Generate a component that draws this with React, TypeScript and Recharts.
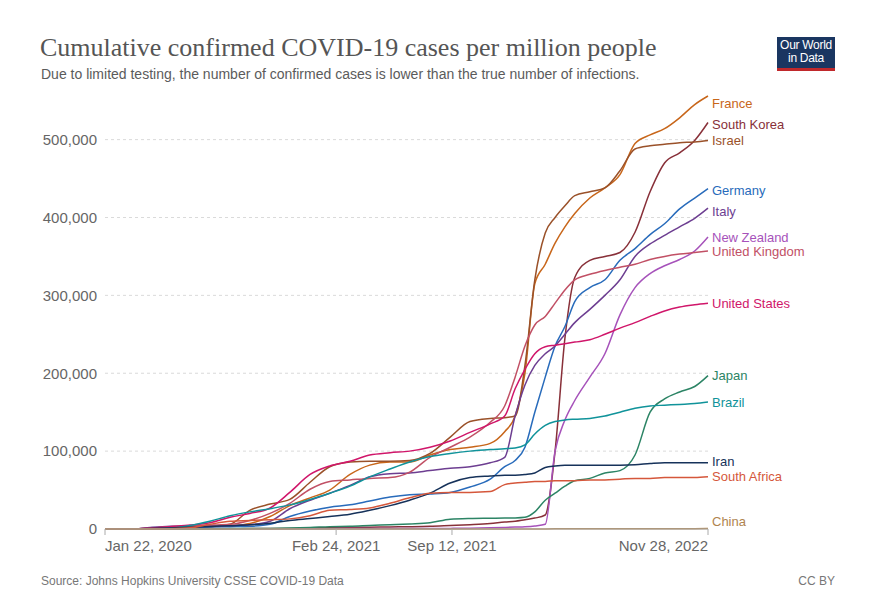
import { LineChart, Line, XAxis, YAxis, CartesianGrid } from "recharts";

// days since Jan 22, 2020
const days = [0, 43, 78, 112, 147, 181, 216, 250, 285, 319, 354, 388, 423, 457, 492, 526, 561, 596, 630, 665, 690, 708, 725, 742, 760, 777, 794, 811, 837, 863, 889, 915, 941, 966, 992, 1018, 1041];

const tickDays = [0, 399, 599, 1041];
const tickLabels = ["Jan 22, 2020", "Feb 24, 2021", "Sep 12, 2021", "Nov 28, 2022"];
const yTicks = [0, 100000, 200000, 300000, 400000, 500000];

// cumulative cases per million
const france = [0, 0, 500, 1000, 2000, 3000, 4000, 7000, 16000, 30000, 40000, 50000, 70000, 82000, 86000, 86000, 95000, 102000, 105000, 110000, 125000, 145000, 200000, 315000, 340000, 367000, 388000, 405000, 425000, 438000, 455000, 495000, 506000, 514000, 528000, 545000, 556000];
const southKorea = [0, 100, 200, 200, 300, 300, 400, 500, 600, 700, 1400, 1700, 2000, 2300, 2700, 3000, 3500, 4500, 5500, 7000, 9000, 10000, 12000, 14000, 18000, 100000, 245000, 323000, 345000, 350000, 355000, 381000, 433000, 470000, 483000, 499000, 522000];
const israel = [0, 0, 1000, 2000, 2000, 3000, 6000, 24000, 32000, 38000, 60000, 80000, 86000, 87000, 87000, 88000, 97000, 118000, 138000, 142000, 143000, 145000, 210000, 320000, 380000, 400000, 415000, 428000, 433000, 438000, 460000, 488000, 492000, 494000, 496000, 497000, 499000];
const germany = [0, 0, 1000, 2000, 2000, 2500, 3000, 3500, 6000, 16000, 23000, 28000, 31000, 36000, 41000, 44000, 45000, 47000, 54000, 64000, 80000, 88000, 105000, 150000, 195000, 235000, 260000, 292000, 310000, 320000, 345000, 360000, 378000, 392000, 411000, 425000, 437000];
const italy = [0, 0, 2000, 3500, 4000, 4000, 4500, 5500, 10000, 26000, 37000, 46000, 56000, 67000, 71000, 72000, 75000, 78000, 80000, 85000, 92000, 145000, 185000, 210000, 225000, 235000, 250000, 265000, 282000, 300000, 320000, 350000, 366000, 377000, 388000, 399000, 412000];
const newZealand = [0, 0, 200, 300, 300, 300, 300, 400, 400, 400, 450, 480, 500, 550, 570, 600, 700, 800, 1000, 1500, 2000, 2500, 3000, 4000, 6000, 100000, 140000, 165000, 195000, 225000, 275000, 310000, 328000, 338000, 346000, 357000, 375000];
const unitedKingdom = [0, 0, 1000, 3000, 4000, 5000, 6000, 11000, 20000, 33000, 51000, 61000, 63000, 65000, 66000, 73000, 92000, 105000, 118000, 137000, 158000, 195000, 235000, 262000, 273000, 290000, 307000, 320000, 327000, 332000, 336000, 340000, 346000, 350000, 353000, 355000, 357000];
const unitedStates = [0, 0, 1000, 3000, 5000, 8000, 15000, 20000, 27000, 47000, 70000, 81000, 87000, 95000, 98000, 100000, 105000, 113000, 124000, 135000, 145000, 180000, 205000, 225000, 234000, 236000, 238000, 240000, 243000, 250000, 258000, 265000, 273000, 280000, 285000, 288000, 290000];
const japan = [0, 0, 0, 100, 150, 200, 500, 600, 800, 1300, 2000, 3000, 3500, 4500, 5500, 6500, 8000, 12500, 13500, 13800, 14000, 14200, 15000, 22000, 37000, 46000, 55000, 62000, 65000, 72000, 75000, 95000, 150000, 167000, 176000, 183000, 197000];
const brazil = [0, 0, 100, 1000, 4500, 10000, 17000, 22000, 26000, 31000, 38000, 46000, 55000, 67000, 77000, 86000, 93000, 97000, 100000, 102000, 103000, 104000, 108000, 122000, 133000, 138000, 140000, 141000, 142000, 145000, 150000, 155000, 158000, 159000, 160000, 161000, 163000];
const iran = [0, 20, 800, 1400, 2300, 3300, 4300, 5300, 7300, 11000, 13500, 16000, 19000, 24000, 30000, 37000, 46000, 59000, 66000, 68000, 69000, 69000, 70000, 72000, 79000, 81000, 82000, 82000, 82000, 82000, 82000, 82500, 84000, 85000, 85000, 85000, 85000];
const southAfrica = [0, 0, 30, 300, 1500, 6000, 10000, 11000, 12000, 13000, 17000, 24000, 25000, 27000, 33000, 40000, 46000, 47000, 47000, 48000, 57000, 59000, 60000, 61000, 61000, 62000, 62000, 62000, 63000, 63000, 64000, 65000, 65000, 66000, 66000, 66000, 67000];
const china = [0, 50, 60, 60, 60, 60, 65, 65, 65, 65, 65, 70, 70, 70, 70, 70, 75, 75, 80, 80, 80, 85, 90, 100, 150, 180, 200, 230, 240, 250, 260, 300, 320, 330, 350, 400, 600];

const seriesValues: Record<string, number[]> = {
  France: france,
  "South Korea": southKorea,
  Israel: israel,
  Germany: germany,
  Italy: italy,
  "New Zealand": newZealand,
  "United Kingdom": unitedKingdom,
  "United States": unitedStates,
  Japan: japan,
  Brazil: brazil,
  Iran: iran,
  "South Africa": southAfrica,
  China: china,
};

const colors: Record<string, string> = {
  France: "#c8661a",
  "South Korea": "#883039",
  Israel: "#9a5129",
  Germany: "#286bbb",
  Italy: "#6d3e91",
  "New Zealand": "#a652ba",
  "United Kingdom": "#c15065",
  "United States": "#d0166a",
  Japan: "#2c8465",
  Brazil: "#10939a",
  Iran: "#16325a",
  "South Africa": "#d5573b",
  China: "#b0844f",
};

// vertical nudge for end labels so they don't collide
const labelNudge: Record<string, number> = {
  France: 7,
  "South Korea": 2,
  Israel: 0,
  Germany: 2,
  Italy: 3,
  "New Zealand": 1,
  "United Kingdom": 1,
  "United States": 0,
  Japan: 0,
  Brazil: 0,
  Iran: -1,
  "South Africa": 0,
  China: -7,
};

const names = Object.keys(seriesValues);

const data = days.map((day, i) => {
  const row: Record<string, number> = { day };
  names.forEach((n) => (row[n] = seriesValues[n][i]));
  return row;
});

const sans = "'Liberation Sans', Arial, sans-serif";

function DateTick(props: any) {
  const { x, y, payload } = props;
  const i = tickDays.indexOf(payload.value);
  const anchor = i === 0 ? "start" : i === tickDays.length - 1 ? "end" : "middle";
  return (
    <text x={x} y={y} dy={14} textAnchor={anchor} fill="#666" fontSize={15} fontFamily={sans}>
      {tickLabels[i]}
    </text>
  );
}

const endLabel = (name: string) => (props: any) => {
  const { x, y, index } = props;
  if (index !== days.length - 1) return <g />;
  return (
    <text x={x + 4} y={y + labelNudge[name]} dy={4.5} fill={colors[name]} fontSize={13} fontFamily={sans}>
      {name}
    </text>
  );
};

export default function App() {
  return (
    <div style={{ position: "absolute", left: 0, top: 0, width: 873, height: 615, background: "#fff", fontFamily: sans }}>
      <div style={{ position: "absolute", left: 40, top: 35, fontFamily: "'Liberation Serif', 'DejaVu Serif', serif", fontSize: 26, lineHeight: "26px", color: "#555", whiteSpace: "nowrap" }}>
        Cumulative confirmed COVID-19 cases per million people
      </div>
      <div style={{ position: "absolute", left: 41, top: 67, fontSize: 14, lineHeight: "14px", color: "#5b5b5b", whiteSpace: "nowrap" }}>
        Due to limited testing, the number of confirmed cases is lower than the true number of infections.
      </div>
      <div style={{ position: "absolute", left: 777, top: 37, width: 58, height: 34, background: "#1a3661", borderBottom: "3px solid #c0282b", boxSizing: "border-box", color: "#fff", fontSize: 12, lineHeight: "13px", textAlign: "center", paddingTop: 2, letterSpacing: -0.3 }}>
        Our World<br />in Data
      </div>
      <LineChart width={873} height={615} data={data} margin={{ top: 96, right: 165, bottom: 56, left: 0 }}>
        <CartesianGrid
          vertical={false}
          horizontalValues={yTicks.slice(1)}
          strokeDasharray="3 3"
          stroke="#dadada"
        />
        <XAxis
          dataKey="day"
          type="number"
          domain={[0, 1041]}
          ticks={tickDays}
          tick={<DateTick />}
          height={30}
          axisLine={{ stroke: "#aaa" }}
          tickLine={{ stroke: "#aaa" }}
          interval={0}
        />
        <YAxis
          domain={[0, "dataMax"]}
          ticks={yTicks}
          width={105}
          axisLine={false}
          tickLine={false}
          tick={{ fill: "#666", fontSize: 15, fontFamily: sans }}
          tickFormatter={(v: number) => v.toLocaleString("en-US")}
        />
        {names.map((n) => (
          <Line
            key={n}
            dataKey={n}
            type="monotone"
            stroke={colors[n]}
            strokeWidth={1.5}
            dot={false}
            isAnimationActive={false}
            label={endLabel(n)}
          />
        ))}
      </LineChart>
      <div style={{ position: "absolute", left: 41, top: 575, fontSize: 12, lineHeight: "12px", color: "#777", whiteSpace: "nowrap" }}>
        Source: Johns Hopkins University CSSE COVID-19 Data
      </div>
      <div style={{ position: "absolute", right: 38, top: 575, fontSize: 12, lineHeight: "12px", color: "#777" }}>CC BY</div>
    </div>
  );
}
